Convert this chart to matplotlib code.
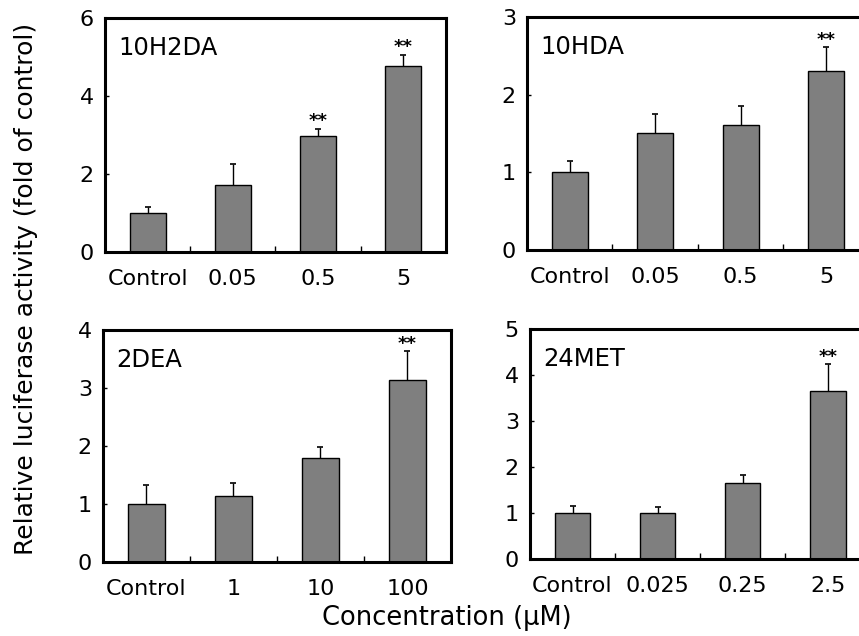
import numpy as np
import matplotlib
matplotlib.use("Agg")
import matplotlib.pyplot as plt

plt.rcParams['font.family'] = ['DejaVu Sans']

# data
labels_10h2da = ["Control", "0.05", "0.5", "5"]
mean_10h2da = [1.00, 1.72, 2.97, 4.78]
err_10h2da = [0.15, 0.53, 0.19, 0.28]
sig_10h2da = [False, False, True, True]

labels_10hda = ["Control", "0.05", "0.5", "5"]
mean_10hda = [1.01, 1.51, 1.61, 2.30]
err_10hda = [0.14, 0.24, 0.25, 0.31]
sig_10hda = [False, False, False, True]

labels_2dea = ["Control", "1", "10", "100"]
mean_2dea = [1.00, 1.13, 1.80, 3.14]
err_2dea = [0.32, 0.23, 0.19, 0.49]
sig_2dea = [False, False, False, True]

labels_24met = ["Control", "0.025", "0.25", "2.5"]
mean_24met = [1.01, 1.01, 1.66, 3.65]
err_24met = [0.14, 0.11, 0.17, 0.58]
sig_24met = [False, False, False, True]

panels = [
    ("10H2DA", labels_10h2da, mean_10h2da, err_10h2da, sig_10h2da, 6, [0, 2, 4, 6]),
    ("10HDA", labels_10hda, mean_10hda, err_10hda, sig_10hda, 3, [0, 1, 2, 3]),
    ("2DEA", labels_2dea, mean_2dea, err_2dea, sig_2dea, 4, [0, 1, 2, 3, 4]),
    ("24MET", labels_24met, mean_24met, err_24met, sig_24met, 5, [0, 1, 2, 3, 4, 5]),
]

# axes boxes in figure fractions (right column runs off the page edge)
boxes = [
    [0.1222, 0.6038, 0.397, 0.3679],
    [0.6135, 0.6069, 0.398, 0.3663],
    [0.1199, 0.1164, 0.405, 0.3648],
    [0.6170, 0.1211, 0.396, 0.3616],
]

fig = plt.figure(figsize=(8.59, 6.36), dpi=100)

for (name, labels, mean, err, sig, ymax, yticks), box in zip(panels, boxes):
    ax = fig.add_axes(box)
    x = np.arange(len(labels))
    ax.bar(x, mean, width=0.42, color='#7f7f7f', edgecolor='black', linewidth=1.0, zorder=2)
    eb = ax.errorbar(x, mean, yerr=[np.zeros(len(err)), err], fmt='none',
                     ecolor='black', elinewidth=1.0, capsize=2.5, capthick=1.2, zorder=3)
    # only the upper cap is drawn in the original
    eb[1][0].set_visible(False)
    for xi, m, e, s in zip(x, mean, err, sig):
        if s:
            ax.annotate("**", (xi, m + e), xytext=(0, 2), textcoords='offset points',
                        ha='center', va='baseline', fontsize=13, fontweight='bold')
    ax.set_xlim(-0.5, len(labels) - 0.5)
    ax.set_ylim(0, ymax)
    ax.set_yticks(yticks)
    ax.set_xticks(x)
    ax.set_xticklabels(labels)
    ax.set_xticks(x[:-1] + 0.5, minor=True)
    ax.tick_params(axis='x', which='major', length=0, pad=12, labelsize=16)
    ax.tick_params(axis='x', which='minor', direction='in', length=4, width=1)
    ax.tick_params(axis='y', direction='in', length=3, width=1, pad=8, labelsize=16)
    for sp in ax.spines.values():
        sp.set_linewidth(2.2)
    ax.text(0.038, 0.87, name, transform=ax.transAxes, fontsize=17.5, va='center', ha='left')

fig.text(0.03, 0.546, "Relative luciferase activity (fold of control)", rotation=90,
         ha='center', va='center', fontsize=18)
fig.text(0.52, 0.028, "Concentration (\u03bcM)", ha='center', va='center', fontsize=18.5)

fig.savefig("out.png", dpi=100)
